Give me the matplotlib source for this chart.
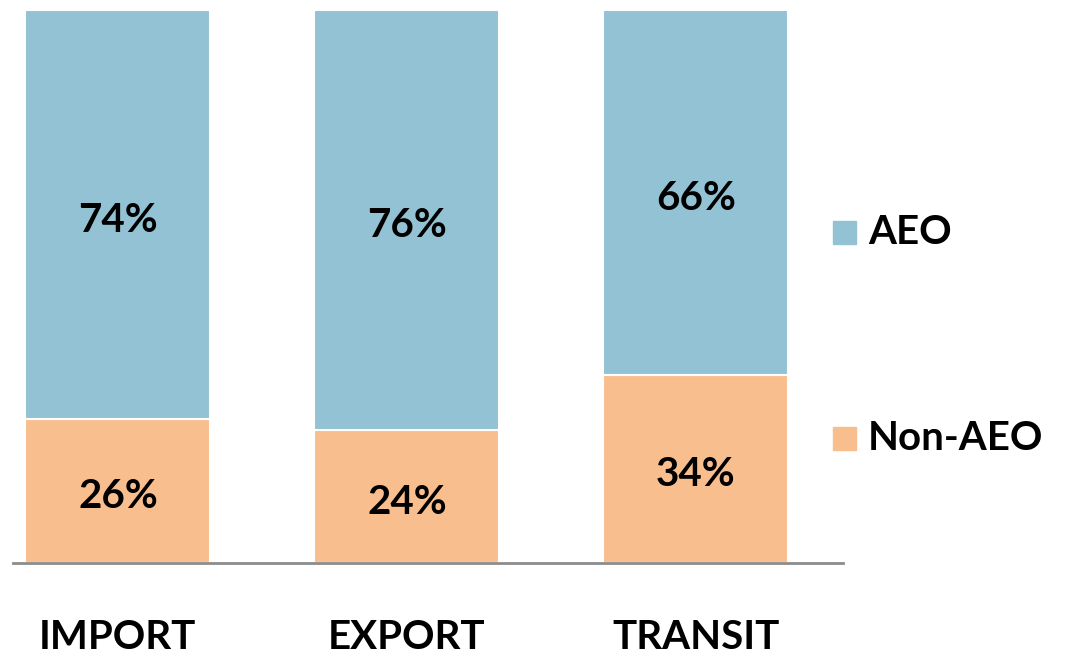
import matplotlib
matplotlib.use("Agg")
import matplotlib.pyplot as plt
from matplotlib.patches import Rectangle

categories = ["IMPORT", "EXPORT", "TRANSIT"]
non_aeo = [26, 24, 34]
aeo = [74, 76, 66]
series_names = ["AEO", "Non-AEO"]
colors = {"AEO": "#93C2D4", "Non-AEO": "#F9BE8E"}

plt.rcParams['font.family'] = ['Lato', 'DejaVu Sans']

W, H = 1068, 658
fig = plt.figure(figsize=(W / 100, H / 100), dpi=100)
ax = fig.add_axes([13 / W, (H - 563) / H, (843 - 13) / W, (563 - 10) / H])

x = list(range(len(categories)))
width = 0.64
b1 = ax.bar(x, non_aeo, width, color=colors["Non-AEO"], edgecolor="white", linewidth=1.5)
b2 = ax.bar(x, aeo, width, bottom=non_aeo, color=colors["AEO"], edgecolor="white", linewidth=1.5)

for i in x:
    ax.text(i, non_aeo[i] / 2 - 1, f"{non_aeo[i]}%", ha="center", va="center",
            fontsize=29, fontweight="bold", color="black")
    ax.text(i, non_aeo[i] + aeo[i] / 2 - 1, f"{aeo[i]}%", ha="center", va="center",
            fontsize=29, fontweight="bold", color="black")

ax.set_xlim(-0.363, 2.509)
ax.set_ylim(0, 100)
for s in ["top", "right", "left"]:
    ax.spines[s].set_visible(False)
ax.spines["bottom"].set_color("#8c8c8c")
ax.spines["bottom"].set_linewidth(2)
ax.set_yticks([])
ax.set_xticks(x)
ax.set_xticklabels(categories, fontsize=29, fontweight="bold")
ax.tick_params(axis="x", length=0, pad=40)

# legend
leg_y = {"AEO": 232, "Non-AEO": 438}
for name in series_names:
    yc = leg_y[name]
    fig.add_artist(Rectangle(((833) / W, (H - yc - 12) / H), 23 / W, 23 / H,
                             transform=fig.transFigure, color=colors[name]))
    fig.text(868 / W, (H - yc) / H, name, ha="left", va="center",
             fontsize=29, fontweight="bold")

fig.savefig("out.png", dpi=100)
